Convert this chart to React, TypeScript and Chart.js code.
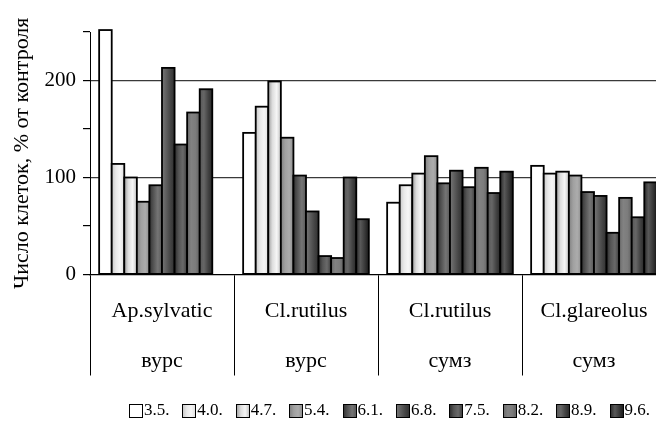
import React, { useEffect, useRef } from 'react';
import { Chart, registerables } from 'chart.js';

Chart.register(...registerables);

// ---------------- data ----------------
const categories: string[][] = [
  ['Ap.sylvatic', 'вурс'],
  ['Cl.rutilus', 'вурс'],
  ['Cl.rutilus', 'сумз'],
  ['Cl.glareolus', 'сумз'],
];
const seriesLabels = ['3.5.', '4.0.', '4.7.', '5.4.', '6.1.', '6.8.', '7.5.', '8.2.', '8.9.', '9.6.'];
const d35 = [252, 146, 74, 112];
const d40 = [114, 173, 92, 104];
const d47 = [100, 199, 104, 106];
const d54 = [75, 141, 122, 102];
const d61 = [92, 102, 94, 85];
const d68 = [213, 65, 107, 81];
const d75 = [134, 19, 90, 43];
const d82 = [167, 17, 110, 79];
const d89 = [191, 100, 84, 59];
const d96 = [null, 57, 106, 95];
const seriesValues = [d35, d40, d47, d54, d61, d68, d75, d82, d89, d96];
const yMin = 0;
const yMax = 250;
const yStep = 50;
const yLabelled = [0, 100, 200];
const yGridLines = [100, 200];
const yTitle = 'Число клеток, % от контроля';

// ---------------- styles ----------------
const SERIF = "'Liberation Serif', 'Times New Roman', serif";
const gradientStops: string[][] = [
  ['#ffffff', '#ffffff'],
  ['#c8c8c8', '#e8e8e8', '#f6f6f6', '#e0e0e0'],
  ['#a0a0a0', '#dedede', '#f6f6f6', '#c4c4c4'],
  ['#808080', '#a0a0a0', '#acacac', '#8e8e8e'],
  ['#333333', '#555555', '#757575', '#585858'],
  ['#767676', '#5e5e5e', '#454545', '#303030'],
  ['#2c2c2c', '#555555', '#6a6a6a', '#3c3c3c'],
  ['#6c6c6c', '#828282', '#7c7c7c', '#626262'],
  ['#585858', '#666666', '#444444', '#282828'],
  ['#2c2c2c', '#585858', '#3a3a3a', '#181818'],
];
const LEGEND_BOX = 13;
const LEGEND_BOXWIDTH = 3.4;
const LEGEND_FONT = 17;
const BAR_BORDER = 1.8;

function makeGradient(ctx: CanvasRenderingContext2D, x0: number, w: number, stops: string[]) {
  const g = ctx.createLinearGradient(x0, 0, x0 + w, 0);
  stops.forEach((c, k) => g.addColorStop(k / (stops.length - 1), c));
  return g;
}

// Paints each bar (geometry taken from the library's bar elements) with a horizontal gradient
const gradientPlugin = {
  id: 'gradFill',
  afterDatasetsDraw(chart: any) {
    const ctx = chart.ctx as CanvasRenderingContext2D;
    ctx.save();
    chart.data.datasets.forEach((_ds: any, i: number) => {
      const meta = chart.getDatasetMeta(i);
      meta.data.forEach((el: any) => {
        if (!Number.isFinite(el.x) || !Number.isFinite(el.width) || !Number.isFinite(el.y)) return;
        const left = el.x - el.width / 2;
        const top = Math.min(el.y, el.base);
        const h = Math.abs(el.base - el.y);
        if (h <= 0) return;
        ctx.fillStyle = makeGradient(ctx, left, el.width, gradientStops[i]);
        ctx.fillRect(left, top, el.width, h);
        ctx.strokeStyle = '#000';
        ctx.lineWidth = BAR_BORDER;
        ctx.strokeRect(left, top, el.width, h);
      });
    });
    ctx.restore();
  },
  afterDraw(chart: any) {
    const legend = chart.legend;
    if (!legend || !legend.legendHitBoxes) return;
    const ctx = chart.ctx as CanvasRenderingContext2D;
    legend.legendHitBoxes.forEach((hb: any, i: number) => {
      const textStart = hb.left + LEGEND_BOXWIDTH + LEGEND_FONT / 2;
      const bx = Math.round(textStart - 2 - LEGEND_BOX) + 0.5;
      const by = Math.round(hb.top + (hb.height - LEGEND_BOX) / 2) + 0.5;
      ctx.save();
      ctx.fillStyle = makeGradient(ctx, bx, LEGEND_BOX, gradientStops[i]);
      ctx.fillRect(bx, by, LEGEND_BOX, LEGEND_BOX);
      ctx.strokeStyle = '#000';
      ctx.lineWidth = 1;
      ctx.strokeRect(bx, by, LEGEND_BOX, LEGEND_BOX);
      ctx.restore();
    });
  },
};

export default function App() {
  const ref = useRef<HTMLCanvasElement>(null);

  useEffect(() => {
    const canvas = ref.current;
    if (!canvas) return;
    const chart = new Chart(canvas, {
      type: 'bar',
      data: {
        labels: categories,
        datasets: seriesValues.map((vals, i) => ({
          label: seriesLabels[i],
          data: vals,
          backgroundColor: 'rgba(0,0,0,0)',
          borderColor: 'rgba(0,0,0,0)',
          borderWidth: 0,
          categoryPercentage: 0.873,
          barPercentage: 1.0,
        })),
      },
      options: {
        responsive: false,
        animation: false,
        events: [],
        layout: { padding: { left: 5, top: 32, right: 4, bottom: 0 } },
        scales: {
          x: {
            afterFit: (s: any) => {
              s.height = 111.5;
            },
            ticks: {
              padding: -89,
              autoSkip: false,
              maxRotation: 0,
              minRotation: 0,
              color: '#000',
              font: { size: 22, family: SERIF, lineHeight: 50 / 22 },
            },
            grid: {
              offset: true,
              drawOnChartArea: false,
              drawTicks: true,
              tickLength: 101,
              color: '#000',
              tickColor: '#000',
              lineWidth: 1,
            },
            border: { display: true, color: '#000', width: 1.3 },
          },
          y: {
            min: yMin,
            max: yMax,
            afterFit: (s: any) => {
              s.width = 85;
            },
            ticks: {
              stepSize: yStep,
              autoSkip: false,
              padding: 7,
              color: '#000',
              font: { size: 21, family: SERIF },
              callback: (v: any) => (yLabelled.includes(Number(v)) ? String(v) : ''),
            },
            grid: {
              color: (c: any) => (c.tick && yGridLines.includes(c.tick.value) ? '#3a3a3a' : 'rgba(0,0,0,0)'),
              tickColor: '#000',
              tickLength: 7,
              lineWidth: 1.2,
              drawTicks: true,
            },
            border: { display: true, color: '#000', width: 1 },
            title: {
              display: true,
              text: yTitle,
              color: '#000',
              font: { size: 22, family: SERIF },
              padding: { top: 4, bottom: 0 },
            },
          },
        },
        plugins: {
          tooltip: { enabled: false },
          legend: {
            display: true,
            position: 'bottom',
            align: 'end',
            fullSize: false,
            labels: {
              boxWidth: LEGEND_BOXWIDTH,
              boxHeight: LEGEND_BOX,
              padding: 16,
              color: '#000',
              font: { size: LEGEND_FONT, family: SERIF },
              generateLabels: () =>
                seriesLabels.map((t, i) => ({
                  text: t,
                  fillStyle: 'rgba(0,0,0,0)',
                  strokeStyle: 'rgba(0,0,0,0)',
                  lineWidth: 0,
                  hidden: false,
                  datasetIndex: i,
                  fontColor: '#000',
                })),
            },
          },
        },
      } as any,
      plugins: [gradientPlugin as any],
    });
    return () => chart.destroy();
  }, []);

  return (
    <div
      style={{
        position: 'fixed',
        left: 0,
        top: 0,
        width: 656,
        height: 421,
        overflow: 'hidden',
        background: '#fff',
      }}
    >
      <canvas ref={ref} width={670} height={429} style={{ display: 'block', width: 670, height: 429 }} />
    </div>
  );
}
